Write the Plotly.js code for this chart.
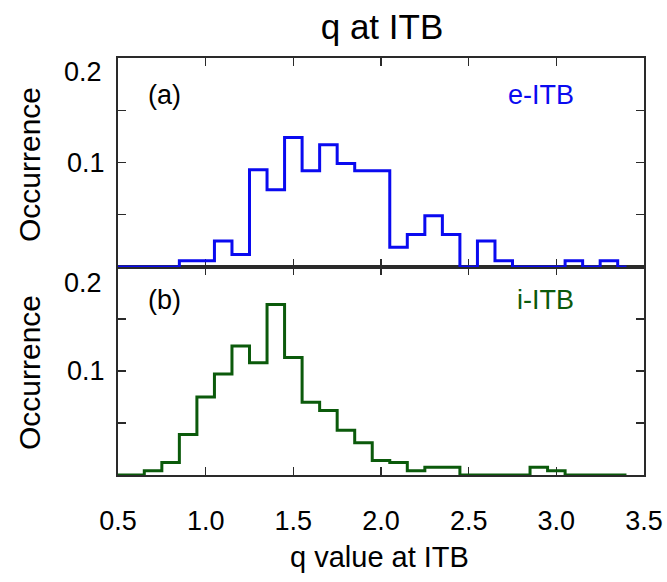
<!DOCTYPE html>
<html>
<head>
<meta charset="utf-8">
<script src="https://cdn.plot.ly/plotly-3.0.1.min.js"></script>
<style>html,body{margin:0;padding:0;background:#fff;}#chart{width:667px;height:582px;}</style>
</head>
<body>
<div id="chart"></div>
<script>
// bin centres (q value), histogram drawn in IDL "psym=10" style
const qBins = [0.5,0.6,0.7,0.8,0.9,1.0,1.1,1.2,1.3,1.4,1.5,1.6,1.7,1.8,1.9,2.0,2.1,2.2,2.3,2.4,2.5,2.6,2.7,2.8,2.9,3.0,3.1,3.2,3.3,3.4];
// (a) e-ITB occurrence
const eITB = [0,0,0,0,0.006,0.006,0.025,0.012,0.093,0.074,0.124,0.092,0.117,0.099,0.092,0.092,0.019,0.031,0.049,0.031,0,0.025,0.006,0,0,0,0.006,0,0.006,0];
// (b) i-ITB occurrence
const iITB = [0,0,0.004,0.012,0.039,0.075,0.097,0.124,0.108,0.164,0.113,0.070,0.062,0.043,0.031,0.014,0.012,0.004,0.0074,0.0074,0,0,0,0,0.0074,0.004,0,0,0,0];
const xTicks = [0.5,1.0,1.5,2.0,2.5,3.0,3.5];
const xTickText = ['0.5','1.0','1.5','2.0','2.5','3.0','3.5'];
const yTicks = [0.05,0.1,0.15];
const yTickText = ['','0.1',''];

const FONT = 'Liberation Sans, Arial, Helvetica, sans-serif';
const blue = '#0a0af0';
const green = '#0b5a0b';
const frame = '#2a2a2a';

// bottom panel (i-ITB) on x/y, top panel (e-ITB) on x2/y2 so it is drawn last
const traces = [
  {x: qBins, y: iITB, type: 'scatter', mode: 'lines', line: {shape: 'hvh', color: green, width: 3}, xaxis: 'x', yaxis: 'y', cliponaxis: false, hoverinfo: 'x+y'},
  {x: qBins, y: eITB, type: 'scatter', mode: 'lines', line: {shape: 'hvh', color: blue, width: 3}, xaxis: 'x2', yaxis: 'y2', cliponaxis: false, hoverinfo: 'x+y'}
];

const xCommon = {
  range: [0.5, 3.5], tickvals: xTicks, ticktext: xTickText,
  ticks: 'inside', ticklen: 8, tickwidth: 1.2, tickcolor: frame,
  showline: true, linecolor: frame, linewidth: 2, mirror: 'ticks',
  showgrid: false, zeroline: false, fixedrange: true, layer: 'below traces'
};
const yCommon = {
  range: [0, 0.2], tickvals: yTicks, ticktext: yTickText,
  ticks: 'inside', ticklen: 8, tickwidth: 1.2, tickcolor: frame,
  showline: true, linecolor: frame, linewidth: 2, mirror: 'ticks',
  showgrid: false, zeroline: false, fixedrange: true, layer: 'below traces',
  tickfont: {family: FONT, size: 27, color: '#000'}, ticklabelstandoff: 6
};
const split = 208/417;

const layout = {
  width: 667, height: 582,
  margin: {l: 118, r: 23, t: 58, b: 107},
  paper_bgcolor: '#fff', plot_bgcolor: '#fff',
  showlegend: false,
  font: {family: FONT, color: '#000'},
  title: {text: 'q at ITB', font: {family: FONT, size: 35, color: '#000'}, x: 382/667, xanchor: 'center', xref: 'container', y: 1 - 27/582, yanchor: 'middle', yref: 'container'},
  xaxis: Object.assign({}, xCommon, {anchor: 'y', showticklabels: true, tickfont: {family: FONT, size: 27, color: '#000'}, ticklabelstandoff: 21}),
  yaxis: Object.assign({}, yCommon, {domain: [0, split], anchor: 'x'}),
  xaxis2: Object.assign({}, xCommon, {anchor: 'y2', showticklabels: false}),
  yaxis2: Object.assign({}, yCommon, {domain: [split, 1], anchor: 'x2'}),
  annotations: [
    {text: '0.2', xref: 'paper', yref: 'paper', x: (104-118)/526, y: (475-72)/417, xanchor: 'right', yanchor: 'middle', showarrow: false, font: {family: FONT, size: 27, color: '#000'}},
    {text: '0.2', xref: 'paper', yref: 'paper', x: (104-118)/526, y: (475-283)/417, xanchor: 'right', yanchor: 'middle', showarrow: false, font: {family: FONT, size: 27, color: '#000'}},
    {text: 'Occurrence', xref: 'paper', yref: 'paper', x: (29-118)/526, y: (475-165)/417, xanchor: 'center', yanchor: 'middle', textangle: -90, showarrow: false, font: {family: FONT, size: 30, color: '#000'}},
    {text: 'Occurrence', xref: 'paper', yref: 'paper', x: (29-118)/526, y: (475-373)/417, xanchor: 'center', yanchor: 'middle', textangle: -90, showarrow: false, font: {family: FONT, size: 30, color: '#000'}},
    {text: 'q value at ITB', xref: 'paper', yref: 'paper', x: (379-118)/526, y: (475-557)/417, xanchor: 'center', yanchor: 'middle', showarrow: false, font: {family: FONT, size: 29, color: '#000'}},
    {text: '(a)', xref: 'paper', yref: 'paper', x: (146-118)/526, y: (475-95)/417, xanchor: 'left', yanchor: 'middle', showarrow: false, font: {family: FONT, size: 27, color: '#000'}},
    {text: 'e-ITB', xref: 'paper', yref: 'paper', x: (576-118)/526, y: (475-95)/417, xanchor: 'right', yanchor: 'middle', showarrow: false, font: {family: FONT, size: 27, color: blue}},
    {text: '(b)', xref: 'paper', yref: 'paper', x: (146-118)/526, y: (475-300)/417, xanchor: 'left', yanchor: 'middle', showarrow: false, font: {family: FONT, size: 27, color: '#000'}},
    {text: 'i-ITB', xref: 'paper', yref: 'paper', x: (576-118)/526, y: (475-300)/417, xanchor: 'right', yanchor: 'middle', showarrow: false, font: {family: FONT, size: 27, color: green}}
  ]
};

Plotly.newPlot('chart', traces, layout, {displayModeBar: false, staticPlot: true});
</script>
</body>
</html>
